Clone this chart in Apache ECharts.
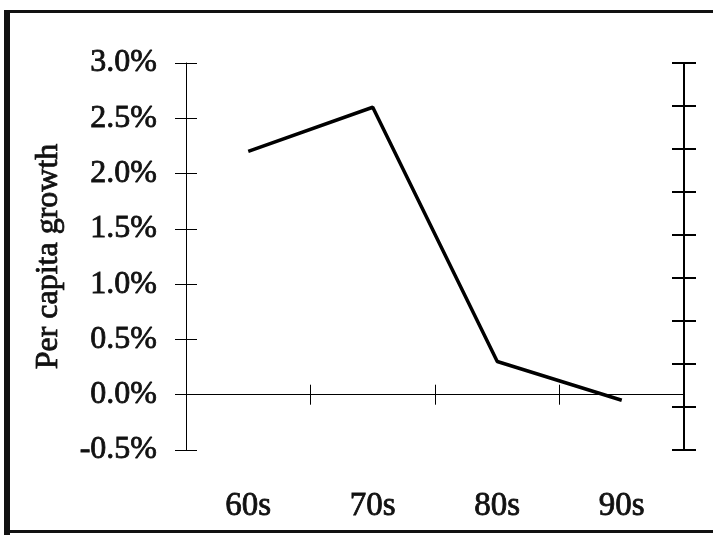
<!DOCTYPE html>
<html><head><meta charset="utf-8">
<script src="https://cdn.jsdelivr.net/npm/echarts@6/dist/echarts.min.js"></script>
<style>html,body{margin:0;padding:0;background:#fff}#c{width:713px;height:535px}</style>
</head><body><div id="c"></div>
<script>
const categories = ['60s', '70s', '80s', '90s'];
const growth = [2.2, 2.6, 0.3, -0.05];
const yTicks = [-0.5, 0, 0.5, 1.0, 1.5, 2.0, 2.5, 3.0];
const axisName = 'Per capita growth';

const font = '"Liberation Serif", "Times New Roman", serif';
const ink = { textBorderColor: '#111', textBorderWidth: 0.8 };
const chart = echarts.init(document.getElementById('c'));
const baseX = {
  type: 'category', data: categories, boundaryGap: true,
  axisLabel: { show: false }, splitLine: { show: false }
};
chart.setOption({
  animation: false,
  backgroundColor: '#fff',
  grid: { left: 186, right: 29, top: 63, bottom: 85, containLabel: false },
  graphic: [
    { type: 'rect', shape: { x: 4, y: 10, width: 6, height: 525 }, style: { fill: '#111' } },
    { type: 'rect', shape: { x: 4, y: 10, width: 709, height: 3 }, style: { fill: '#111' } },
    { type: 'rect', shape: { x: 4, y: 530, width: 709, height: 3 }, style: { fill: '#111' } }
  ],
  xAxis: [
    Object.assign({}, baseX, {
      position: 'top',
      axisLine: { onZero: true, onZeroAxisIndex: 0, lineStyle: { color: '#000', width: 1 } },
      axisTick: { show: true, inside: false, length: 10, lineStyle: { color: '#000' } }
    }),
    Object.assign({}, baseX, {
      position: 'bottom',
      axisLine: { show: false, onZero: false }, axisTick: { show: false },
      axisLabel: Object.assign({ show: true, margin: 40, fontFamily: font, fontSize: 33, color: '#111' }, ink)
    }),
    Object.assign({}, baseX, {
      position: 'bottom',
      axisLine: { onZero: true, onZeroAxisIndex: 0, lineStyle: { color: '#000', width: 1 } },
      axisTick: { show: true, inside: false, length: 10, lineStyle: { color: '#000' } }
    })
  ],
  yAxis: [
    {
      type: 'value', min: yTicks[0], max: yTicks[yTicks.length - 1], interval: 0.5,
      position: 'left',
      name: axisName, nameLocation: 'middle', nameGap: 121,
      nameTextStyle: Object.assign({ fontFamily: font, fontSize: 32, color: '#111' }, ink),
      axisLine: { show: true, lineStyle: { color: '#000', width: 1 } },
      axisTick: { show: true, length: 11, lineStyle: { color: '#000' } },
      axisLabel: Object.assign({ margin: 29, fontFamily: font, fontSize: 32, color: '#111',
        formatter: v => v.toFixed(1) + '%' }, ink),
      splitLine: { show: false }
    },
    {
      type: 'value', min: yTicks[0], max: yTicks[yTicks.length - 1], interval: 0.5,
      position: 'left',
      axisLine: { show: false },
      axisTick: { show: true, inside: true, length: 11, lineStyle: { color: '#000' } },
      axisLabel: { show: false }, splitLine: { show: false }
    },
    {
      type: 'value', min: 0, max: 9, interval: 1, position: 'right',
      axisLine: { show: true, lineStyle: { color: '#000', width: 2 } },
      axisTick: { show: true, length: 12, lineStyle: { color: '#000', width: 2 } },
      axisLabel: { show: false }, splitLine: { show: false }
    },
    {
      type: 'value', min: 0, max: 9, interval: 1, position: 'right',
      axisLine: { show: false },
      axisTick: { show: true, inside: true, length: 12, lineStyle: { color: '#000', width: 2 } },
      axisLabel: { show: false }, splitLine: { show: false }
    }
  ],
  series: [{
    type: 'line', data: growth, xAxisIndex: 0, yAxisIndex: 0,
    showSymbol: false, symbol: 'none',
    lineStyle: { color: '#000', width: 3.5 }
  }]
});
</script></body></html>
